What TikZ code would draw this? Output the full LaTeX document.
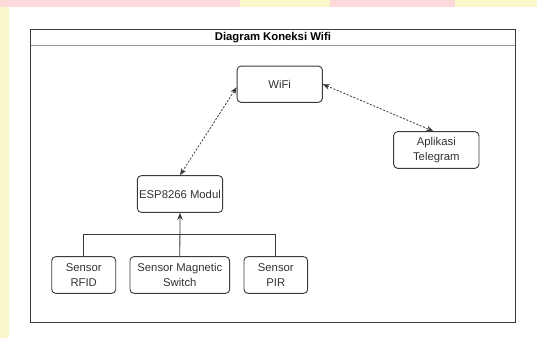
\documentclass[tikz,border=0pt]{standalone}
\usepackage{fontspec}
\setmainfont{Liberation Sans}
\usetikzlibrary{arrows.meta}
\definecolor{txt}{HTML}{333333}
\definecolor{edge}{HTML}{3A3A3A}
\definecolor{sep}{HTML}{9A9A9A}
\definecolor{bgyel}{HTML}{FBF7CC}
\definecolor{bgpink}{HTML}{FDD9D9}
\tikzset{
  box/.style={draw=edge, line width=0.9pt, rounded corners=4pt, fill=white,
    text=txt, align=center, inner sep=0pt,
    font=\fontsize{11.3}{14.7}\selectfont},
  link/.style={draw=edge, line width=0.8pt},
  dlink/.style={draw=edge, line width=0.8pt, dash pattern=on 2pt off 1.6pt,
    {Stealth[length=7pt,width=5.5pt]}-{Stealth[length=7pt,width=5.5pt]}},
  uplink/.style={draw=edge, line width=0.8pt, -{Stealth[length=7pt,width=5.5pt]}}
}
\begin{document}
\begin{tikzpicture}[x=1pt,y=-1pt]
\useasboundingbox (0,0) rectangle (537,338);
% background
\fill[bgyel] (0,0) rectangle (537,338);
\fill[bgpink] (0,0) rectangle (455,7);
\fill[bgyel] (240,0) rectangle (330,7);
\fill[white] (9,7) rectangle (537,338);
% frame
\draw[draw=edge, line width=1pt] (30.7,29.3) rectangle (515,322.3);
\draw[draw=sep, line width=1.3pt] (30.7,45.7) -- (515,45.7);
\node[text=black, font=\fontsize{11.3}{14}\selectfont\bfseries] (title) at (272.9,37.6) {Diagram Koneksi Wifi};
% nodes
\node[box, minimum width=85.3pt, minimum height=36.3pt] (wifi) at (279.7,84.2) {WiFi};
\node[box, minimum width=85.3pt, minimum height=36.7pt] (tele) at (436.3,150) {Aplikasi\\Telegram};
\node[box, minimum width=85.3pt, minimum height=36.7pt] (esp) at (180,194) {ESP8266 Modul};
\node[box, minimum width=64pt, minimum height=36.7pt] (rfid) at (83.7,275) {Sensor\\RFID};
\node[box, minimum width=99.7pt, minimum height=36.7pt] (mag) at (179.8,275) {Sensor Magnetic\\Switch};
\node[box, minimum width=63.7pt, minimum height=36.7pt] (pir) at (275.8,275) {Sensor\\PIR};
% connectors
\coordinate (bus) at (0,234.7);
\draw[link] (rfid.north) -- (rfid.north |- bus) -- (pir.north |- bus) -- (pir.north);
\draw[uplink] (mag.north) -- (esp.south);
\draw[dlink] (esp.north) -- ([yshift=-3pt]wifi.west);
\draw[dlink] (wifi.east) -- ([xshift=-3pt]tele.north);
\end{tikzpicture}
\end{document}
